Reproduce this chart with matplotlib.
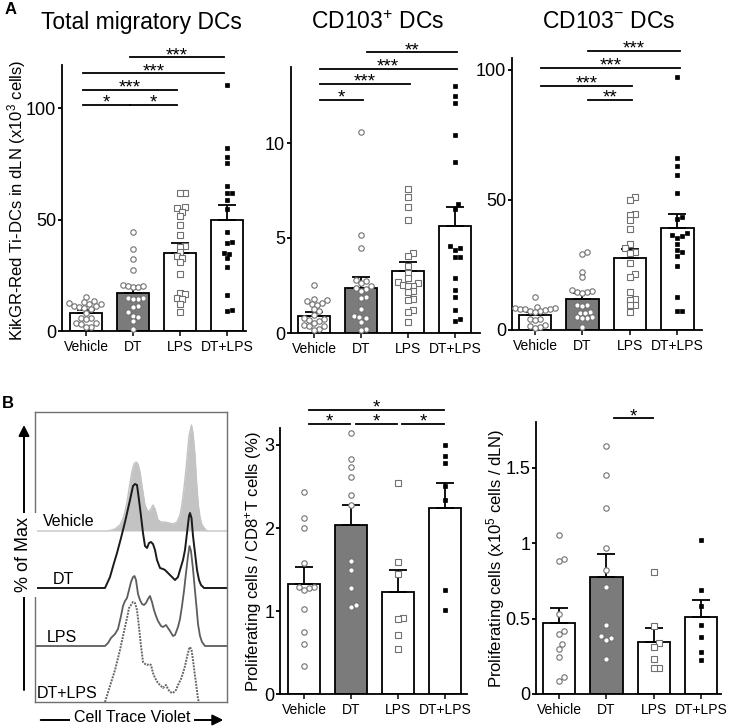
"""Migratory DC counts and CTV proliferation panels."""
import matplotlib

matplotlib.use("Agg")
import matplotlib.pyplot as plt
import numpy as np

plt.rcParams["font.family"] = ["Liberation Sans", "DejaVu Sans"]
plt.rcParams["mathtext.fontset"] = "custom"
plt.rcParams["mathtext.rm"] = "Liberation Sans"
plt.rcParams["mathtext.default"] = "rm"

W, H = 736, 727
GROUPS = ["Vehicle", "DT", "LPS", "DT+LPS"]

# --- A: total migratory DCs (x10^3 cells)
total_mean = [8.0, 17.0, 35.2, 49.9]
total_sem = [1.6, 2.7, 4.2, 6.7]
total_vehicle = [15.1, 13.3, 13.1, 12.5, 12.3, 12.0, 11.3, 11.1, 10.8, 10.3,
                 10.0, 8.1, 5.9, 5.7, 5.5, 3.8, 3.5, 3.3, 2.0, 1.8]
total_dt = [44.6, 36.7, 32.2, 27.4, 20.5, 20.0, 19.6, 19.9, 20.3, 15.0,
            14.5, 14.8, 14.2, 11.2, 10.7, 8.7, 6.9, 6.5, 4.6, 0.8]
total_lps = [62.0, 61.8, 55.6, 55.4, 53.5, 51.5, 47.5, 43.3, 38.0, 37.8, 35.5,
             33.5, 33.0, 31.0, 25.8, 17.0, 16.5, 14.8, 14.3, 12.3, 8.6]
total_dtlps = [110.5, 82.1, 78.3, 75.3, 65.1, 62.2, 62.0, 58.8, 55.0, 44.3,
               39.8, 39.6, 35.0, 34.8, 32.7, 28.6, 16.2, 9.6, 9.2]
total_sig = [(0, 1, 101.5, "*"), (1, 2, 101.5, "*"), (0, 2, 108.3, "***"),
             (0, 3, 115.8, "***"), (1, 3, 123.0, "***")]

# --- A: CD103+ DCs
pos_mean = [0.91, 2.37, 3.28, 5.61]
pos_sem = [0.19, 0.56, 0.47, 1.0]
pos_vehicle = [2.54, 1.80, 1.75, 1.66, 1.58, 1.54, 1.50, 1.26, 1.14, 0.95,
               0.80, 0.74, 0.70, 0.61, 0.55, 0.40, 0.38, 0.35, 0.20, 0.15]
pos_dt = [10.6, 5.17, 4.47, 2.80, 2.72, 2.62, 2.45, 2.37, 2.33, 2.19,
          1.92, 1.86, 1.25, 0.92, 0.85, 0.79, 0.60, 0.22, 0.18]
pos_lps = [7.58, 7.16, 6.63, 5.93, 4.21, 4.07, 3.54, 3.16, 2.89, 2.68, 2.64,
           2.52, 2.49, 2.45, 2.20, 2.17, 1.77, 1.74, 1.23, 1.10, 0.56]
pos_dtlps = [13.0, 12.45, 12.1, 10.4, 8.98, 6.8, 6.54, 4.6, 4.47, 4.38,
             3.98, 3.98, 2.89, 2.28, 1.89, 1.23, 0.75, 0.65]
pos_sig = [(0, 1, 12.28, "*"), (0, 2, 13.1, "***"), (0, 3, 13.9, "***"),
           (1, 3, 14.77, "**")]

# --- A: CD103- DCs
neg_mean = [5.8, 11.9, 27.6, 39.1]
neg_sem = [1.0, 2.5, 3.4, 5.5]
neg_vehicle = [12.8, 8.9, 8.6, 8.4, 8.2, 8.0, 7.9, 7.6, 7.4, 7.2, 7.0,
               4.3, 4.1, 3.9, 1.8, 1.5, 1.2, 0.6]
neg_dt = [30.1, 29.1, 22.4, 20.3, 15.3, 15.0, 14.7, 14.5, 14.3, 9.8,
          9.6, 9.4, 6.9, 6.7, 6.5, 5.1, 4.9, 4.8, 4.6, 1.0]
neg_lps = [51.3, 50.0, 44.8, 44.4, 42.3, 38.7, 33.1, 31.4, 30.0, 29.8,
           25.6, 21.5, 20.5, 14.7, 11.9, 11.7, 9.7, 9.5, 7.0]
neg_dtlps = [97.2, 66.0, 63.1, 59.6, 52.8, 43.6, 42.8, 37.2, 36.5, 36.0,
             35.3, 33.0, 30.8, 30.1, 28.5, 24.6, 12.8, 7.3, 7.2]
neg_sig = [(1, 2, 88.5, "**"), (0, 2, 93.8, "***"), (0, 3, 100.9, "***"),
           (1, 3, 107.3, "***")]

# --- B: proliferating cells / CD8+ T cells (%)
pct_mean = [1.33, 2.04, 1.23, 2.24]
pct_sem = [0.20, 0.24, 0.27, 0.30]
pct_vehicle = [2.43, 2.12, 2.00, 1.58, 1.29, 1.28, 1.29, 1.25, 1.03, 0.75,
               0.61, 0.34]
pct_dt = [3.14, 2.83, 2.74, 2.61, 2.40, 2.28, 1.60, 1.50, 1.28, 1.08, 1.05]
pct_lps = [2.54, 1.59, 1.45, 0.92, 0.91, 0.71, 0.54]
pct_dtlps = [3.00, 2.87, 2.78, 2.50, 2.34, 1.26, 1.02]
pct_sig = [(0, 1, 3.25, "*"), (1, 2, 3.25, "*"), (2, 3, 3.25, "*"),
           (0, 3, 3.42, "*")]

# --- B: proliferating cells (x10^5 cells / dLN)
num_mean = [0.47, 0.777, 0.347, 0.512]
num_sem = [0.10, 0.15, 0.093, 0.11]
num_vehicle = [1.053, 0.894, 0.881, 0.528, 0.42, 0.40, 0.33, 0.30, 0.247,
               0.11, 0.088]
num_dt = [1.645, 1.45, 1.234, 0.965, 0.82, 0.706, 0.457, 0.373, 0.358,
          0.382, 0.232]
num_lps = [0.81, 0.45, 0.335, 0.309, 0.23, 0.17, 0.17]
num_dtlps = [1.02, 0.689, 0.583, 0.457, 0.38, 0.276, 0.225]
num_sig = [(1, 2, 1.826, "*")]

# --- B: CTV histograms (channel, height)
ctv_vehicle_x = [0, 73, 80, 85, 89, 92, 95, 97, 99, 101, 103, 105, 107, 110,
                 113, 116, 118, 120, 123, 126, 130, 134, 138, 142, 145, 147,
                 149, 151, 152.5, 154, 156.5, 158, 160, 161.5, 163.3, 165,
                 167, 170, 172, 192]
ctv_vehicle_y = [0, 0, 2, 6, 15, 29, 48, 60, 67, 69, 67, 59, 45, 26, 19, 22,
                 26, 22, 11, 9, 9, 8, 7, 9, 16, 27, 43, 62, 79, 95, 106, 98,
                 76, 50, 26, 14, 6, 2, 0, 0]
ctv_dt_x = [0, 70, 75, 79, 82, 86, 90, 95, 98, 100, 102, 104, 106, 108, 110,
            112, 114, 116, 118, 120, 122, 125, 128, 130, 133, 136, 140, 143,
            145, 148, 150, 152, 154, 155, 156.5, 158, 160, 162, 164, 166,
            169, 192]
ctv_dt_y = [0, 0, 11, 25, 35, 50, 66, 88, 102, 104, 103, 88, 72, 55, 42, 40,
            45, 46, 44, 38, 28, 20, 19, 18, 15, 12, 8, 11, 18, 28, 38, 55,
            72, 75, 70, 52, 35, 18, 8, 3, 0, 0]
ctv_lps_x = [0, 70, 73, 76, 80, 83, 86, 88, 90, 92, 94, 96, 98, 99.5, 101,
             103, 105, 107, 109, 111, 113, 115, 117, 119, 121, 123, 126, 128,
             131, 133, 135, 138, 140, 143, 145, 147, 149, 151, 153, 154.5,
             156, 158, 160, 161.7, 163, 165, 167, 170, 192]
ctv_lps_y = [0, 0, 3, 8, 12, 17, 30, 40, 45, 48, 56, 64, 69, 70, 66, 52, 46,
             42, 41, 43, 47, 50, 44, 36, 30, 25, 20, 19, 21, 18, 15, 10, 11,
             19, 27, 40, 55, 73, 90, 100, 95, 77, 55, 37, 22, 10, 4, 0, 0]
ctv_dtlps_x = [70, 75, 80, 85, 88, 90, 92, 94, 96, 98, 100, 102, 104, 106,
               108, 110, 112, 114, 116, 118, 120, 123, 126, 128, 131, 133,
               135, 138, 141, 143, 146, 148, 150, 152, 154, 155, 156.5, 158,
               159.5, 161, 163, 164]
ctv_dtlps_y = [0, 16, 32, 52, 66, 75, 84, 94, 97, 100, 99, 92, 75, 56, 40,
               38, 37, 38, 37, 29, 24, 19, 16, 14, 17, 13, 10, 9, 12, 17, 23,
               29, 36, 45, 53, 55, 52, 42, 30, 19, 3, 0]

BAR_FACE = ["white", "#7b7b7b", "white", "white"]
MARK = [dict(marker="o", ms=3.9, mfc="white", mec="#707070", mew=0.8),
        dict(marker="o", ms=3.9, mfc="white", mec="#707070", mew=0.8),
        dict(marker="s", ms=3.7, mfc="white", mec="#707070", mew=0.8),
        dict(marker="s", ms=3.5, mfc="black", mec="black", mew=0.5)]


def px_rect(x0, x1, y0, y1):
    return [x0 / W, 1 - y1 / H, (x1 - x0) / W, (y1 - y0) / H]


def swarm(ax, x0, values, dmin=5.0):
    """Beeswarm x offsets (data units) so markers barely overlap."""
    tr = ax.transData.transform
    ys = tr(np.column_stack([np.full(len(values), x0), values]))[:, 1]
    unit = tr((1, 0))[0] - tr((0, 0))[0]
    cands = [0.0]
    for k in range(1, 30):
        cands += [k * dmin * 0.5, -k * dmin * 0.5]
    placed = []
    offs = np.zeros(len(values))
    for i in np.argsort(ys):
        for c in cands:
            if all((c - px) ** 2 + (ys[i] - py) ** 2 >= dmin ** 2 for px, py in placed):
                placed.append((c, ys[i]))
                offs[i] = c / unit
                break
    return offs


def bar_panel(ax, means, sems, groups, ylim, xlim, yticks, yticklabels, sig, sig_dx):
    x = np.arange(len(GROUPS))
    ax.set_xlim(*xlim)
    ax.set_ylim(*ylim)
    ax.bar(x, means, width=0.68, color=BAR_FACE, edgecolor="black", linewidth=1.3, zorder=2)
    ax.errorbar(x, means, yerr=[np.zeros(len(x)), sems], fmt="none", ecolor="black",
                elinewidth=1.3, capsize=6.5, capthick=1.3, zorder=3)
    for i, vals in enumerate(groups):
        vals = np.asarray(vals)
        ax.plot(i + swarm(ax, i, vals), vals, linestyle="none", zorder=4,
                clip_on=False, **MARK[i])
    for a, b, y, stars in sig:
        ax.plot([a + sig_dx[0], b + sig_dx[1]], [y, y], color="black", lw=1.3,
                clip_on=False, zorder=5)
        ax.annotate(stars, ((a + b + sig_dx[0] + sig_dx[1]) / 2, y), xytext=(0, -2),
                    textcoords="offset points", ha="center", va="baseline",
                    fontsize=13.5, annotation_clip=False)
    for side in ("top", "right"):
        ax.spines[side].set_visible(False)
    for side in ("left", "bottom"):
        ax.spines[side].set_linewidth(1.3)
    ax.set_xticks(x, GROUPS, fontsize=10)
    ax.set_yticks(yticks, yticklabels, fontsize=13)
    ax.tick_params(axis="x", length=3.5, width=1.1, pad=3)
    ax.tick_params(axis="y", length=3, width=1.3, pad=1)


fig = plt.figure(figsize=(W / 100, H / 100), dpi=100)

ax1 = fig.add_axes(px_rect(61.7, 246, 65, 331))
bar_panel(ax1, total_mean, total_sem, [total_vehicle, total_dt, total_lps, total_dtlps],
          (0, 119.5), (-0.52, 3.41), [0, 50, 100], ["0", "50", "100"],
          total_sig, (-0.06, -0.06))
ax2 = fig.add_axes(px_rect(290.7, 480, 67, 333))
bar_panel(ax2, pos_mean, pos_sem, [pos_vehicle, pos_dt, pos_lps, pos_dtlps],
          (0, 14), (-0.5, 3.53), [0, 5, 10], ["0", "5", "10"], pos_sig, (0.12, 0.03))
ax3 = fig.add_axes(px_rect(511.7, 701.7, 58, 330))
bar_panel(ax3, neg_mean, neg_sem, [neg_vehicle, neg_dt, neg_lps, neg_dtlps],
          (0, 104.6), (-0.49, 3.51), [0, 50, 100], ["0", "50", "100"], neg_sig, (0.12, 0.05))
ax5 = fig.add_axes(px_rect(280, 466.7, 428.3, 694.3))
bar_panel(ax5, pct_mean, pct_sem, [pct_vehicle, pct_dt, pct_lps, pct_dtlps],
          (0, 3.2), (-0.52, 3.46), [0, 1, 2, 3], ["0", "1", "2", "3"], pct_sig, (0.09, -0.03))
ax6 = fig.add_axes(px_rect(536, 721, 422.3, 694))
bar_panel(ax6, num_mean, num_sem, [num_vehicle, num_dt, num_lps, num_dtlps],
          (0, 1.8), (-0.49, 3.42), [0, 0.5, 1, 1.5], ["0", "0.5", "1", "1.5"],
          num_sig, (0.15, -0.02))

# titles, axis labels, panel letters
fig.text(141.5 / W, 1 - 22 / H, "Total migratory DCs", ha="center", va="center", fontsize=16.5)
fig.text(377.5 / W, 1 - 22.5 / H, "CD103$^{+}$ DCs", ha="center", va="center", fontsize=16.5)
fig.text(609 / W, 1 - 22 / H, "CD103$^{-}$ DCs", ha="center", va="center", fontsize=16.5)
fig.text(17 / W, 1 - 200 / H, "KikGR-Red Ti-DCs in dLN (x10$^{3}$ cells)",
         rotation=90, ha="center", va="center", fontsize=12)
fig.text(254 / W, 1 - 562 / H, "Proliferating cells / CD8$^{+}$T cells (%)",
         rotation=90, ha="center", va="center", fontsize=12)
fig.text(496 / W, 1 - 558 / H, "Proliferating cells (x10$^{5}$ cells / dLN)",
         rotation=90, ha="center", va="center", fontsize=12)
fig.text(11 / W, 1 - 10 / H, "A", ha="center", va="center", fontsize=12, fontweight="bold")
fig.text(8 / W, 1 - 403 / H, "B", ha="center", va="center", fontsize=12, fontweight="bold")

# CTV histogram overlay
axh = fig.add_axes(px_rect(35, 227, 412, 702))
axh.set_xlim(0, 192)
axh.set_ylim(0, 290)
axh.set_xticks([])
axh.set_yticks([])
for sp in axh.spines.values():
    sp.set_color("#707070")
    sp.set_linewidth(1.0)
base_veh, base_dt, base_lps = 171, 114, 56
vy = np.asarray(ctv_vehicle_y) + base_veh
axh.fill_between(ctv_vehicle_x, base_veh, vy, color="#c3c3c3", lw=0)
axh.plot(ctv_vehicle_x, vy, color="#c3c3c3", lw=1.0)
axh.plot(ctv_dt_x, np.asarray(ctv_dt_y) + base_dt, color="#1a1a1a", lw=1.4)
axh.plot(ctv_lps_x, np.asarray(ctv_lps_y) + base_lps, color="#5c5c5c", lw=1.3)
axh.plot(ctv_dtlps_x, ctv_dtlps_y, color="#666666", lw=1.4, linestyle=(0, (1, 0.6)))
for label, xx, yy in [("Vehicle", 8, base_veh + 10), ("DT", 18, base_dt + 9),
                      ("LPS", 12, base_lps + 8), ("DT+LPS", 2, 9)]:
    axh.text(xx, yy, label, ha="left", va="center", fontsize=11.5)

arrow = dict(arrowstyle="-|>", color="black", lw=1.4, mutation_scale=16,
             shrinkA=0, shrinkB=0)
fig.add_artist(matplotlib.patches.FancyArrowPatch(
    (24 / W, 1 - 690 / H), (24 / W, 1 - 425 / H), transform=fig.transFigure,
    zorder=1, **arrow))
fig.add_artist(matplotlib.patches.FancyArrowPatch(
    (40.7 / W, 1 - 720 / H), (223.3 / W, 1 - 720 / H), transform=fig.transFigure,
    zorder=1, **arrow))
fig.text(24 / W, 1 - 555 / H, "% of Max", rotation=90, ha="center", va="center",
         fontsize=13, zorder=5, bbox=dict(fc="white", ec="none", pad=3))
fig.text(132 / W, 1 - 717 / H, "Cell Trace Violet", ha="center", va="center",
         fontsize=11.5, zorder=5, bbox=dict(fc="white", ec="none", pad=2.5))

fig.savefig("out.png", dpi=100)
plt.close(fig)
